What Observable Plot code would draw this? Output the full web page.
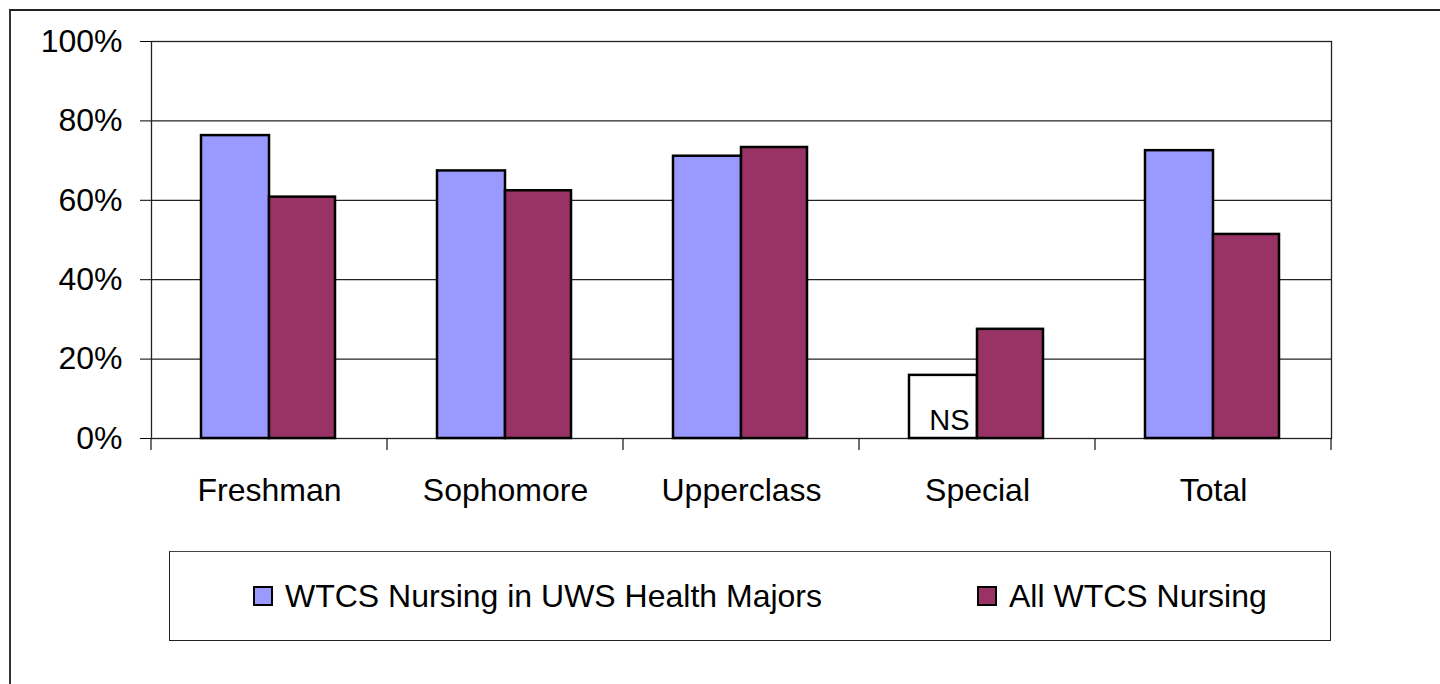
<!DOCTYPE html>
<html>
<head>
<meta charset="utf-8">
<script src="https://cdn.jsdelivr.net/npm/d3@7"></script>
<script src="https://cdn.jsdelivr.net/npm/@observablehq/plot@0.6"></script>
<style>
  html, body { margin: 0; padding: 0; background: #fff; }
  body { width: 1440px; height: 684px; position: relative; overflow: hidden; font-family: "Liberation Sans", Arial, sans-serif; }
  #outer { position: absolute; left: 9px; top: 9px; width: 1500px; height: 700px; border-top: 2px solid #222; border-left: 2px solid #333; box-sizing: border-box; }
  #chart { position: absolute; left: 0; top: 0; }
  #legend { position: absolute; left: 169px; top: 551px; width: 1162px; height: 90px; box-sizing: border-box; border: 1px solid #222; border-top-color: #444; background: #fff; }
  .item { position: absolute; top: 0; height: 88px; display: flex; align-items: center; font-size: 32px; color: #000; white-space: nowrap; }
  .sw { width: 20px; height: 20px; box-sizing: border-box; border: 2.5px solid #000; margin-right: 12px; }
</style>
</head>
<body>
<div id="outer"></div>
<div id="chart"></div>
<div id="legend"></div>
<script>
// ---- data ----
const categories = ["Freshman", "Sophomore", "Upperclass", "Special", "Total"];
const seriesNames = ["WTCS Nursing in UWS Health Majors", "All WTCS Nursing"];
const uwsHealthMajors = [76.3, 67.4, 71.1, 15.9, 72.5];
const allWtcsNursing = [60.8, 62.4, 73.3, 27.5, 51.4];
const notSignificant = [false, false, false, true, false];
const yTicks = [0, 20, 40, 60, 80, 100];
const seriesColors = ["#9999FF", "#993366"];

const rowsA = categories.map((c, i) => ({cat: c, v: uwsHealthMajors[i], ns: notSignificant[i]}));
const rowsB = categories.map((c, i) => ({cat: c, v: allWtcsNursing[i]}));

// boundary tick marks under the category axis, drawn with Plot's own scales
function boundaryTicks(index, scales, values, dimensions) {
  const x = scales.x, y = scales.y;
  const bw = typeof x.bandwidth === "function" ? x.bandwidth()
    : (dimensions.width - dimensions.marginLeft - dimensions.marginRight) / categories.length;
  const edges = categories.map(c => x(c)).concat([x(categories[categories.length - 1]) + bw]);
  const g = d3.create("svg:g");
  g.selectAll("line").data(edges).join("line")
    .attr("x1", d => d).attr("x2", d => d)
    .attr("y1", y(0)).attr("y2", y(0) + 12)
    .attr("stroke", "#222").attr("stroke-width", 1.3);
  return g.node();
}

const plot = Plot.plot({
  width: 1440,
  height: 684,
  marginLeft: 151,
  marginRight: 109,
  marginTop: 41,
  marginBottom: 246,
  style: {fontFamily: "'Liberation Sans', Arial, sans-serif", fontSize: "32px", color: "#000", background: "transparent", overflow: "visible"},
  x: {domain: categories, padding: 0, tickSize: 0, tickPadding: 40, label: null},
  y: {domain: [0, 100], ticks: yTicks, tickFormat: d => d + "%", tickSize: 11, tickPadding: 18, label: null},
  marks: [
    Plot.ruleY(yTicks, {stroke: "#222", strokeWidth: 1.2}),
    Plot.frame({stroke: "#222", strokeWidth: 1.3}),
    Plot.barY(rowsA, {x: "cat", y: "v", fill: d => d.ns ? "#ffffff" : seriesColors[0], stroke: "#000", strokeWidth: 2.5, insetLeft: 50, insetRight: 118}),
    Plot.barY(rowsB, {x: "cat", y: "v", fill: seriesColors[1], stroke: "#000", strokeWidth: 2.5, insetLeft: 118, insetRight: 52}),
    Plot.text(rowsA.filter(d => d.ns), {x: "cat", y: 0, text: () => "NS", textAnchor: "end", lineAnchor: "bottom", dx: -8, dy: -9, fontSize: 29}),
    boundaryTicks
  ]
});
document.getElementById("chart").appendChild(plot);

// legend
const legend = document.getElementById("legend");
const itemLefts = [83, 807];
seriesNames.forEach((name, i) => {
  const it = document.createElement("div");
  it.className = "item";
  it.style.left = itemLefts[i] + "px";
  const sw = document.createElement("div");
  sw.className = "sw";
  sw.style.background = seriesColors[i];
  const tx = document.createElement("span");
  tx.textContent = name;
  it.appendChild(sw);
  it.appendChild(tx);
  legend.appendChild(it);
});
</script>
</body>
</html>
